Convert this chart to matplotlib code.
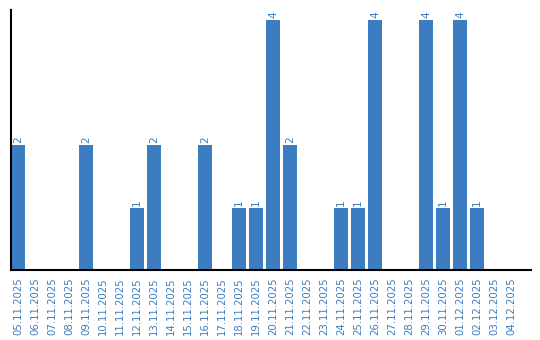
import matplotlib
matplotlib.use("Agg")
import matplotlib.pyplot as plt

dates = ["05.11.2025", "06.11.2025", "07.11.2025", "08.11.2025", "09.11.2025",
         "10.11.2025", "11.11.2025", "12.11.2025", "13.11.2025", "14.11.2025",
         "15.11.2025", "16.11.2025", "17.11.2025", "18.11.2025", "19.11.2025",
         "20.11.2025", "21.11.2025", "22.11.2025", "23.11.2025", "24.11.2025",
         "25.11.2025", "26.11.2025", "27.11.2025", "28.11.2025", "29.11.2025",
         "30.11.2025", "01.12.2025", "02.12.2025", "03.12.2025", "04.12.2025"]
counts = [2, 0, 0, 0, 2, 0, 0, 1, 2, 0, 0, 2, 0, 1, 1,
          4, 2, 0, 0, 1, 1, 4, 0, 0, 4, 1, 4, 1, 0, 0]

blue = "#3b7dc0"

fig = plt.figure(figsize=(5.4, 3.4), dpi=100)
ax = fig.add_axes([11 / 540, 70 / 340, 520 / 540, 260 / 340])

x = list(range(len(dates)))
w = 14 / 17
ax.bar(x, counts, width=w, color=blue)

for xi, c in zip(x, counts):
    if c > 0:
        ax.text(xi, c + 0.03, str(c), rotation=90, ha="center", va="bottom",
                color=blue, fontsize=7.5)

ax.set_xlim(-w / 2, 520 / 17 - w / 2)
ax.set_ylim(0, 4.16)
ax.set_xticks(x)
ax.set_xticklabels(dates, rotation=90, color=blue, fontsize=7.3)
ax.tick_params(axis="x", length=0, pad=5)
ax.set_yticks([])

for s in ["top", "right"]:
    ax.spines[s].set_visible(False)
for s in ["left", "bottom"]:
    ax.spines[s].set_linewidth(1.5)
    ax.spines[s].set_color("black")

fig.savefig("out.png", dpi=100)
